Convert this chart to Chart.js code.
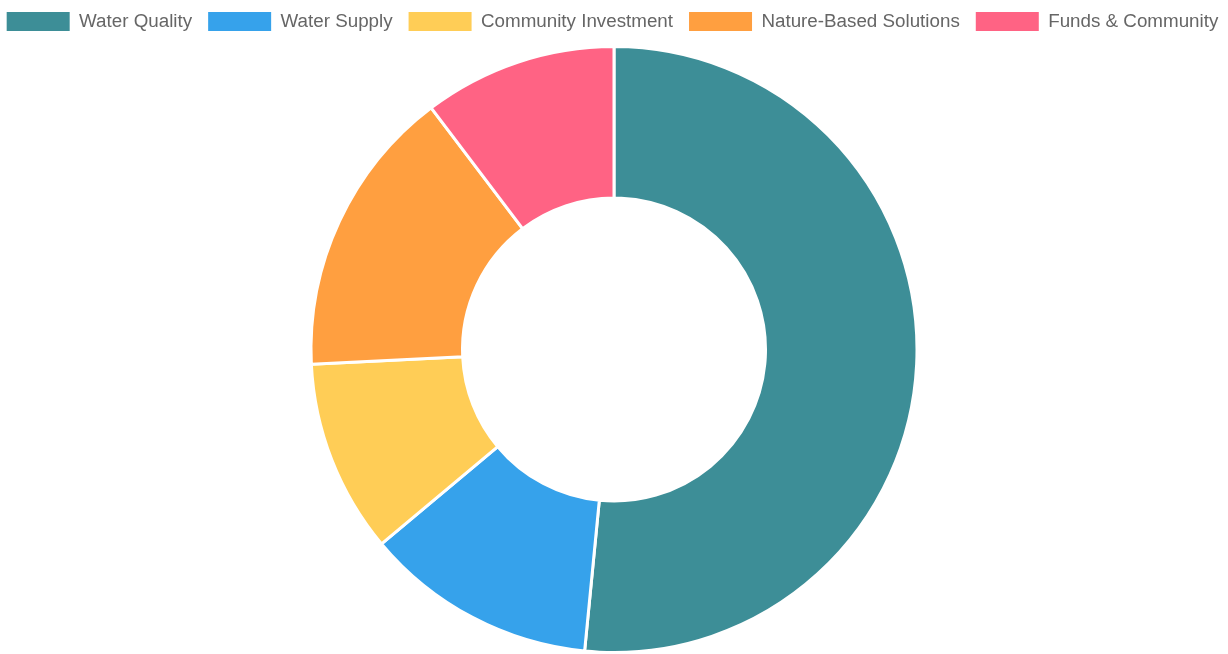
<!DOCTYPE html>
<html>
<head>
<meta charset="utf-8">
<script src="https://cdn.jsdelivr.net/npm/chart.js@4.4.0/dist/chart.umd.min.js"></script>
<style>
  html, body { margin: 0; padding: 0; background: #fff; overflow: hidden; }
  #wrap { position: relative; width: 1228px; height: 654px; }
</style>
</head>
<body>
<div id="wrap"><canvas id="fundingChart"></canvas></div>
<script>
const categories = ['Water Quality', 'Water Supply', 'Community Investment', 'Nature-Based Solutions', 'Funds & Community'];
const amounts = [50, 12, 10, 15, 10];
const sliceColors = ['#3d8e97', '#36a2eb', '#ffcd56', '#ff9f40', '#ff6384'];

// a little extra space under the legend
const legendGap = {
  id: 'legendGap',
  beforeInit(chart) {
    const fit = chart.legend.fit;
    chart.legend.fit = function() {
      fit.call(this);
      this.height += 4;
    };
  }
};

function newDoughnut(id, labels, values, colors) {
  const ctx = document.getElementById(id).getContext('2d');
  const chart = new Chart(ctx, {
    type: 'doughnut',
    data: {
      labels: labels,
      datasets: [{
        data: values,
        backgroundColor: colors,
        borderColor: '#fff',
        borderWidth: 3
      }]
    },
    options: {
      responsive: true,
      maintainAspectRatio: false,
      animation: false,
      cutout: '50%',
      // negative side padding gives the legend room to stay on one row
      layout: {
        padding: { top: -4, bottom: -7, left: -20, right: -17 }
      },
      plugins: {
        legend: {
          position: 'top',
          labels: {
            color: '#666',
            font: { family: "'Liberation Sans', Arial, sans-serif", size: 18.8 },
            boxWidth: 63,
            boxHeight: 19,
            padding: 16,
            // legend swatches without the white slice border
            generateLabels: function(chart) {
              const items = Chart.overrides.doughnut.plugins.legend.labels.generateLabels(chart);
              items.forEach(function(item) { item.lineWidth = 0; });
              return items;
            }
          }
        },
        tooltip: { enabled: false }
      }
    },
    plugins: [legendGap]
  });
  return chart;
}

newDoughnut('fundingChart', categories, amounts, sliceColors);
</script>
</body>
</html>
